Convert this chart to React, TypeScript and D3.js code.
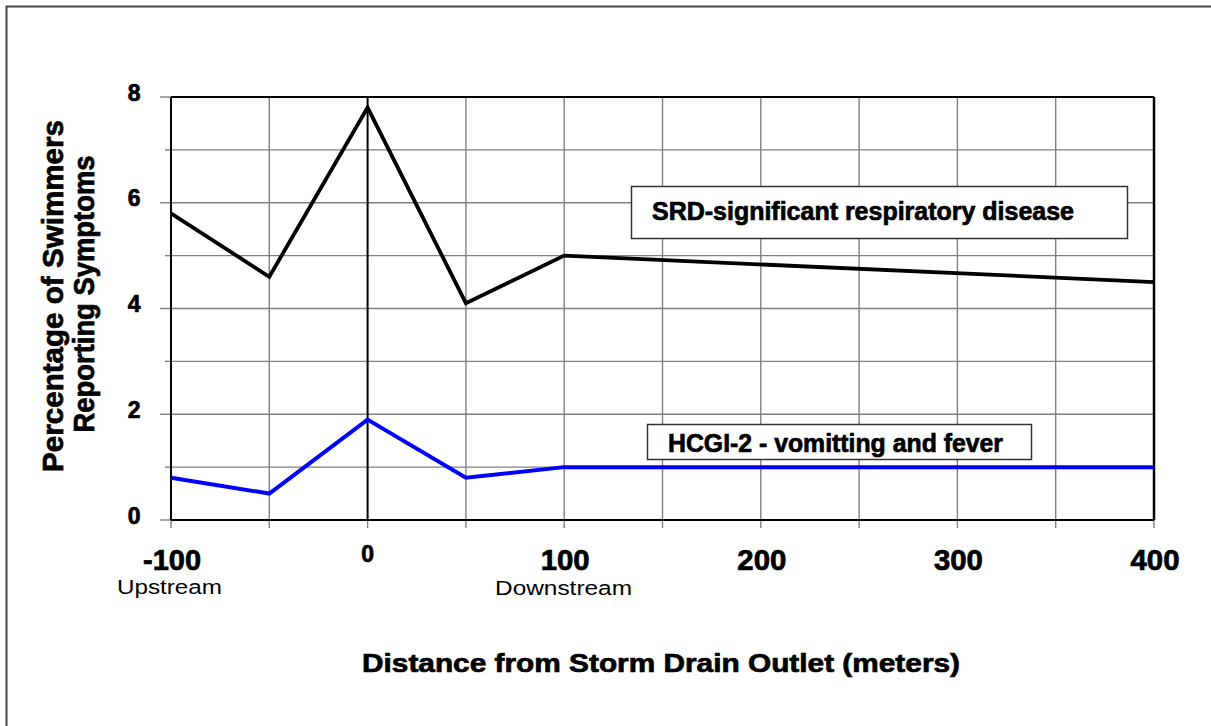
import React from "react";
import * as d3 from "d3";

const distances = [-100, -50, 0, 50, 100, 400];
const srdValues = [5.8, 4.6, 7.8, 4.1, 5.0, 4.5];
const hcgiValues = [0.8, 0.5, 1.9, 0.8, 1.0, 1.0];

const xGrid = [-100, -50, 0, 50, 100, 150, 200, 250, 300, 350, 400];
const xLabelsBig = [-100, 100, 200, 300, 400];
const xLabelZero = 0;
const yGrid = [0, 1, 2, 3, 4, 5, 6, 7, 8];
const yLabels = [0, 2, 4, 6, 8];

const srdLabel = "SRD-significant respiratory disease";
const hcgiLabel = "HCGI-2 - vomitting and fever";
const xTitle = "Distance from Storm Drain Outlet (meters)";
const yTitle1 = "Percentage of Swimmers";
const yTitle2 = "Reporting Symptoms";

const FONT = "'Liberation Sans', Arial, Helvetica, sans-serif";

export default function App() {
  const W = 1211;
  const H = 726;
  const x = d3.scaleLinear().domain([-100, 400]).range([171, 1154]);
  const y = d3.scaleLinear().domain([0, 8]).range([520, 97]);

  const line = d3
    .line<number>()
    .x((_, i) => x(distances[i]))
    .y((v) => y(v));

  const blackX = new Set([-100, 0, 400]);
  const heavy = { stroke: "#000", strokeWidth: 0.7 } as const;

  return (
    <svg
      width={W}
      height={H}
      style={{ position: "absolute", left: 0, top: 0, background: "#fff" }}
      fontFamily={FONT}
    >
      <rect x={0} y={0} width={W} height={H} fill="#fff" />
      {/* outer frame (top and left visible) */}
      <line x1={6} y1={6.5} x2={W} y2={6.5} stroke="#444" strokeWidth={2} />
      <line x1={6.5} y1={6} x2={6.5} y2={H} stroke="#444" strokeWidth={2} />

      {/* horizontal grid + y ticks */}
      {yGrid.map((v) => (
        <g key={"hy" + v}>
          <line
            x1={v % 2 === 0 ? 160 : 165}
            x2={171}
            y1={y(v)}
            y2={y(v)}
            stroke="#808080"
            strokeWidth={1.4}
          />
          {v !== 0 && v !== 8 && (
            <line x1={171} x2={1154} y1={y(v)} y2={y(v)} stroke="#808080" strokeWidth={1.4} />
          )}
        </g>
      ))}

      {/* vertical grid + x ticks */}
      {xGrid.map((v) => (
        <g key={"vx" + v}>
          <line x1={x(v)} x2={x(v)} y1={y(0)} y2={y(0) + 8} stroke="#808080" strokeWidth={1.4} />
          {!blackX.has(v) && (
            <line x1={x(v)} x2={x(v)} y1={y(8)} y2={y(0)} stroke="#808080" strokeWidth={1.4} />
          )}
        </g>
      ))}

      {/* black frame lines */}
      <line x1={x(-100)} x2={x(400)} y1={y(8)} y2={y(8)} stroke="#000" strokeWidth={2} />
      <line x1={x(-100)} x2={x(400)} y1={y(0)} y2={y(0)} stroke="#000" strokeWidth={2} />
      <line x1={x(-100)} x2={x(-100)} y1={y(8)} y2={y(0)} stroke="#000" strokeWidth={2} />
      <line x1={x(0)} x2={x(0)} y1={y(8)} y2={y(0)} stroke="#000" strokeWidth={2} />
      <line x1={x(400)} x2={x(400)} y1={y(8)} y2={y(0)} stroke="#000" strokeWidth={2.5} />

      {/* data lines */}
      <path d={line(srdValues) || ""} fill="none" stroke="#000" strokeWidth={3.8} strokeLinejoin="miter" />
      <path d={line(hcgiValues) || ""} fill="none" stroke="#0000ff" strokeWidth={4} strokeLinejoin="miter" />

      {/* legend boxes */}
      <rect x={631.5} y={186.5} width={496} height={52} fill="#fff" stroke="#333" strokeWidth={1.5} />
      <text x={652} y={220} fontSize={25} fontWeight="bold" textLength={422} lengthAdjust="spacingAndGlyphs" {...heavy}>
        {srdLabel}
      </text>
      <rect x={647.5} y={424.5} width={384} height={35} fill="#fff" stroke="#333" strokeWidth={1.5} />
      <text x={668} y={452} fontSize={26} fontWeight="bold" textLength={335} lengthAdjust="spacingAndGlyphs" {...heavy}>
        {hcgiLabel}
      </text>

      {/* y labels */}
      {yLabels.map((v) => (
        <text key={"yl" + v} x={140.5} y={y(v) + 3.5} fontSize={23} fontWeight="bold" textAnchor="end" {...heavy}>
          {v}
        </text>
      ))}

      {/* x labels */}
      {xLabelsBig.map((v) => (
        <text
          key={"xl" + v}
          x={x(v) + 1}
          y={569.5}
          fontSize={29}
          fontWeight="bold"
          textAnchor="middle"
          textLength={v < 0 ? 58 : 49}
          lengthAdjust="spacingAndGlyphs"
          {...heavy}
        >
          {v}
        </text>
      ))}
      <text x={x(xLabelZero)} y={562} fontSize={23} fontWeight="bold" textAnchor="middle" {...heavy}>
        {xLabelZero}
      </text>
      <text x={169.5} y={594} fontSize={20} textAnchor="middle" textLength={105} lengthAdjust="spacingAndGlyphs">
        Upstream
      </text>
      <text x={563.5} y={595} fontSize={20} textAnchor="middle" textLength={137} lengthAdjust="spacingAndGlyphs">
        Downstream
      </text>

      {/* axis titles */}
      <text x={661} y={672} fontSize={26} fontWeight="bold" textAnchor="middle" textLength={598} lengthAdjust="spacingAndGlyphs" {...heavy}>
        {xTitle}
      </text>
      <text
        transform="translate(63,296) rotate(-90)"
        fontSize={29}
        fontWeight="bold"
        textAnchor="middle"
        textLength={352}
        lengthAdjust="spacingAndGlyphs"
        {...heavy}
      >
        {yTitle1}
      </text>
      <text
        transform="translate(94,294) rotate(-90)"
        fontSize={29}
        fontWeight="bold"
        textAnchor="middle"
        textLength={277}
        lengthAdjust="spacingAndGlyphs"
        {...heavy}
      >
        {yTitle2}
      </text>
    </svg>
  );
}
